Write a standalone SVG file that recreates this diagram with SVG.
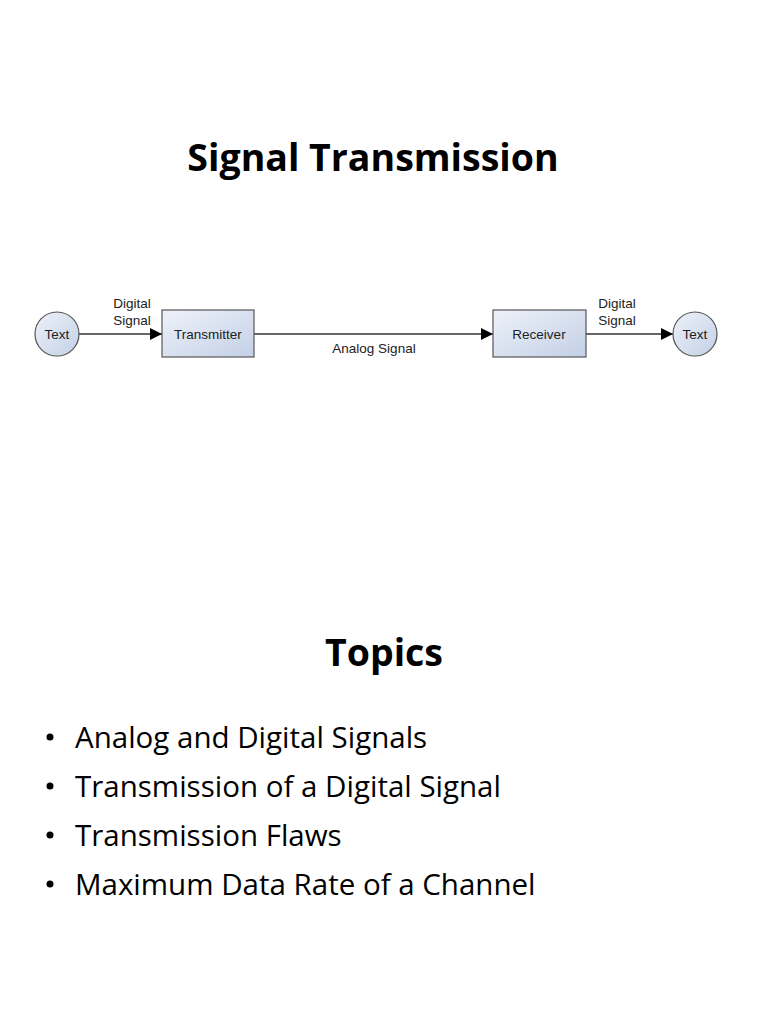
<svg xmlns="http://www.w3.org/2000/svg" width="768" height="1024" viewBox="0 0 768 1024">
<style>
.h{font-family:"Open Sans","Liberation Sans",sans-serif;font-weight:bold;fill:#000;text-anchor:middle}
.b{font-family:"Open Sans","Liberation Sans",sans-serif;font-size:29.5px;fill:#000}
.s{font-family:"Liberation Sans",Arial,sans-serif;font-size:13.5px;fill:#222}
.n{stroke:#555;stroke-width:1.2;fill:url(#g)}
.c{stroke:#333;stroke-width:1.3;fill:none;marker-end:url(#a)}
</style>
<defs>
<linearGradient id="g" x1="0" y1="0" x2="1" y2="1"><stop offset="0" stop-color="#eef2f9"/><stop offset="1" stop-color="#c3d0e6"/></linearGradient>
<marker id="a" viewBox="0 0 10 10" refX="10" refY="5" markerWidth="12" markerHeight="12" markerUnits="userSpaceOnUse" orient="auto"><path d="M0,0L10,5L0,10z" fill="#000"/></marker>
</defs>
<rect width="768" height="1024" fill="#fff"/>
<text class="h" x="373" y="171" font-size="37.5">Signal Transmission</text>
<g id="connectors">
<line class="c" x1="79" y1="334" x2="162" y2="334"/>
<line class="c" x1="254" y1="334" x2="493" y2="334"/>
<line class="c" x1="586" y1="334" x2="673" y2="334"/>
<text class="s" x="132" y="308" text-anchor="middle">Digital</text>
<text class="s" x="132" y="325" text-anchor="middle">Signal</text>
<text class="s" x="374" y="353" text-anchor="middle">Analog Signal</text>
<text class="s" x="617" y="308" text-anchor="middle">Digital</text>
<text class="s" x="617" y="325" text-anchor="middle">Signal</text>
</g>
<g id="src"><circle class="n" cx="57" cy="334" r="22"/><text class="s" x="57" y="339" text-anchor="middle">Text</text></g>
<g id="tx"><rect class="n" x="162" y="310" width="92" height="47"/><text class="s" x="208" y="339" text-anchor="middle">Transmitter</text></g>
<g id="rx"><rect class="n" x="493" y="310" width="93" height="47"/><text class="s" x="539" y="339" text-anchor="middle">Receiver</text></g>
<g id="dst"><circle class="n" cx="695" cy="334" r="22"/><text class="s" x="695" y="339" text-anchor="middle">Text</text></g>
<text class="h" x="384" y="666" font-size="37.5">Topics</text>
<g class="b">
<circle cx="50" cy="737" r="3.5"/><text x="75" y="748">Analog and Digital Signals</text>
<circle cx="50" cy="786" r="3.5"/><text x="75" y="797">Transmission of a Digital Signal</text>
<circle cx="50" cy="835" r="3.5"/><text x="75" y="846">Transmission Flaws</text>
<circle cx="50" cy="884" r="3.5"/><text x="75" y="895">Maximum Data Rate of a Channel</text>
</g>
</svg>
